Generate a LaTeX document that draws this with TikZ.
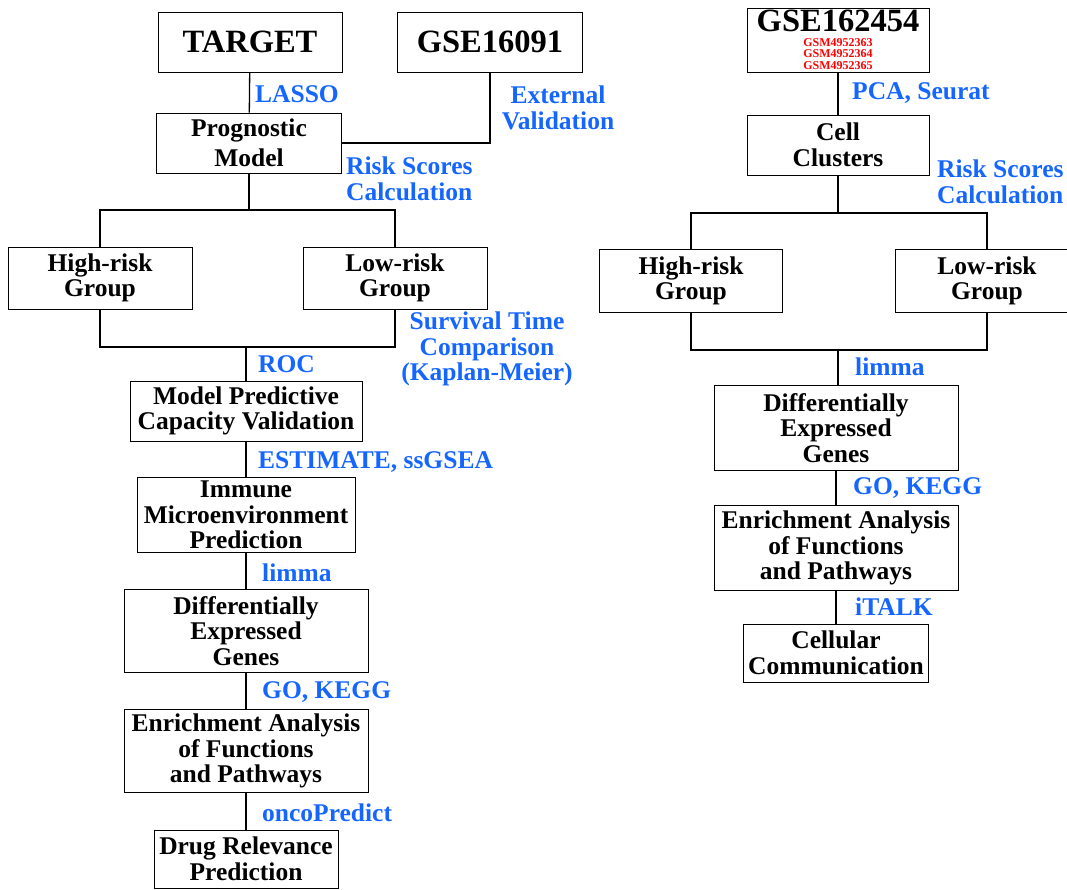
\documentclass[tikz,border=0pt]{standalone}
\usepackage{fontspec}
\setmainfont{Liberation Serif}
\usepackage{tikz}
\definecolor{labblue}{HTML}{1466FF}

\begin{document}
\begin{tikzpicture}[x=1pt,y=-1pt]
\tikzset{box/.style = {draw, line width=0.9pt, fill=white, align=center, inner sep=0pt,
  font=\bfseries\fontsize{25.5}{25.5}\selectfont}}
\tikzset{title/.style = {box, font=\bfseries\fontsize{32.5}{32}\selectfont}}
\tikzset{lab/.style = {text=labblue, align=left, anchor=west, inner sep=0pt,
  font=\bfseries\fontsize{25.5}{25.5}\selectfont}}
\tikzset{link/.style = {line width=1.3pt}}
\useasboundingbox (0,0) rectangle (1067,889);

% left column
\node[title, minimum width=184pt, minimum height=60pt] (target) at (250,42) {TARGET};
\node[title, minimum width=185pt, minimum height=60pt] (gse16) at (490,42) {GSE16091};
\node[box, minimum width=185pt, minimum height=60pt] (prog) at (249,143) {Prognostic\\[5pt]Model};
\node[box, minimum width=184pt, minimum height=62pt] (high1) at (100,278) {High-risk\\Group};
\node[box, minimum width=184pt, minimum height=62pt] (low1) at (395,278) {Low-risk\\Group};
\node[box, minimum width=232pt, minimum height=60pt] (mpc) at (246,411) {Model Predictive\\Capacity Validation};
\node[box, minimum width=218pt, minimum height=75pt] (immune) at (246,515) {Immune\\Microenvironment\\Prediction};
\node[box, minimum width=244pt, minimum height=83pt] (deg1) at (246,631) {Differentially\\Expressed\\Genes};
\node[box, minimum width=244pt, minimum height=83pt] (enr1) at (246,751) {Enrichment Analysis\\of Functions\\and Pathways};
\node[box, minimum width=184pt, minimum height=58pt] (drug) at (246,859) {Drug Relevance\\Prediction};

\coordinate (split1) at (249,210);
\coordinate (join1) at (246,347);

% left labels
\node[lab] (lasso) at (255,94) {LASSO};
\node[lab, align=center, anchor=center] (extval) at (558,108) {External\\Validation};
\node[lab] (risk1) at (346,179) {Risk Scores\\Calculation};
\node[lab, align=center, anchor=center] (surv) at (487,349) {Survival Time\\Comparison\\(Kaplan-Meier)};
\node[lab] (roc) at (258,364) {ROC};
\node[lab] (estimate) at (258,462) {ESTIMATE, ssGSEA};
\node[lab] (limma1) at (262,573) {limma};
\node[lab] (go1) at (262,692) {GO, KEGG};
\node[lab] (onco) at (262,813) {oncoPredict};

% left edges
\draw[link] (target) -- (prog);
\draw[link] (gse16.south) |- (prog.east);
\draw[link] (prog.south) -- (split1);
\draw[link] (high1.north) |- (split1) -| (low1.north);
\draw[link] (high1.south) |- (join1) -| (low1.south);
\draw[link] (join1) -- (mpc.north);
\draw[link] (mpc) -- (immune);
\draw[link] (immune) -- (deg1);
\draw[link] (deg1) -- (enr1);
\draw[link] (enr1) -- (drug);

% right column
\node[box, minimum width=182pt, minimum height=64pt] (gse162) at (838,40) {};
\node[inner sep=0pt, text depth=0pt, font=\bfseries\fontsize{32.5}{32}\selectfont] (gse162t) at (838,21) {GSE162454};
\node[inner sep=0pt, align=center, text=red, font=\bfseries\fontsize{12}{11.5}\selectfont] (gsm) at (838,54) {GSM4952363\\GSM4952364\\GSM4952365};
\node[box, minimum width=182pt, minimum height=60pt] (cells) at (838,145) {Cell\\Clusters};
\node[box, minimum width=183pt, minimum height=63pt] (high2) at (691,281) {High-risk\\Group};
\node[box, minimum width=184pt, minimum height=63pt] (low2) at (987,281) {Low-risk\\Group};
\node[box, minimum width=244pt, minimum height=85pt] (deg2) at (836,428) {Differentially\\Expressed\\Genes};
\node[box, minimum width=244pt, minimum height=85pt] (enr2) at (836,548) {Enrichment Analysis\\of Functions\\and Pathways};
\node[box, minimum width=185pt, minimum height=58pt] (comm) at (836,653) {Cellular\\Communication};

\coordinate (split2) at (838,213);
\coordinate (join2) at (838,350);

% right labels
\node[lab] (pca) at (852,93) {PCA, Seurat};
\node[lab] (risk2) at (937,182) {Risk Scores\\Calculation};
\node[lab] (limma2) at (855,367) {limma};
\node[lab] (go2) at (853,488) {GO, KEGG};
\node[lab] (italk) at (855,607) {iTALK};

% right edges
\draw[link] (gse162) -- (cells);
\draw[link] (cells.south) -- (split2);
\draw[link] (high2.north) |- (split2) -| (low2.north);
\draw[link] (high2.south) |- (join2) -| (low2.south);
\draw[link] (join2) -- (join2 |- deg2.north);
\draw[link] (deg2) -- (enr2);
\draw[link] (enr2) -- (comm);
\end{tikzpicture}
\end{document}
